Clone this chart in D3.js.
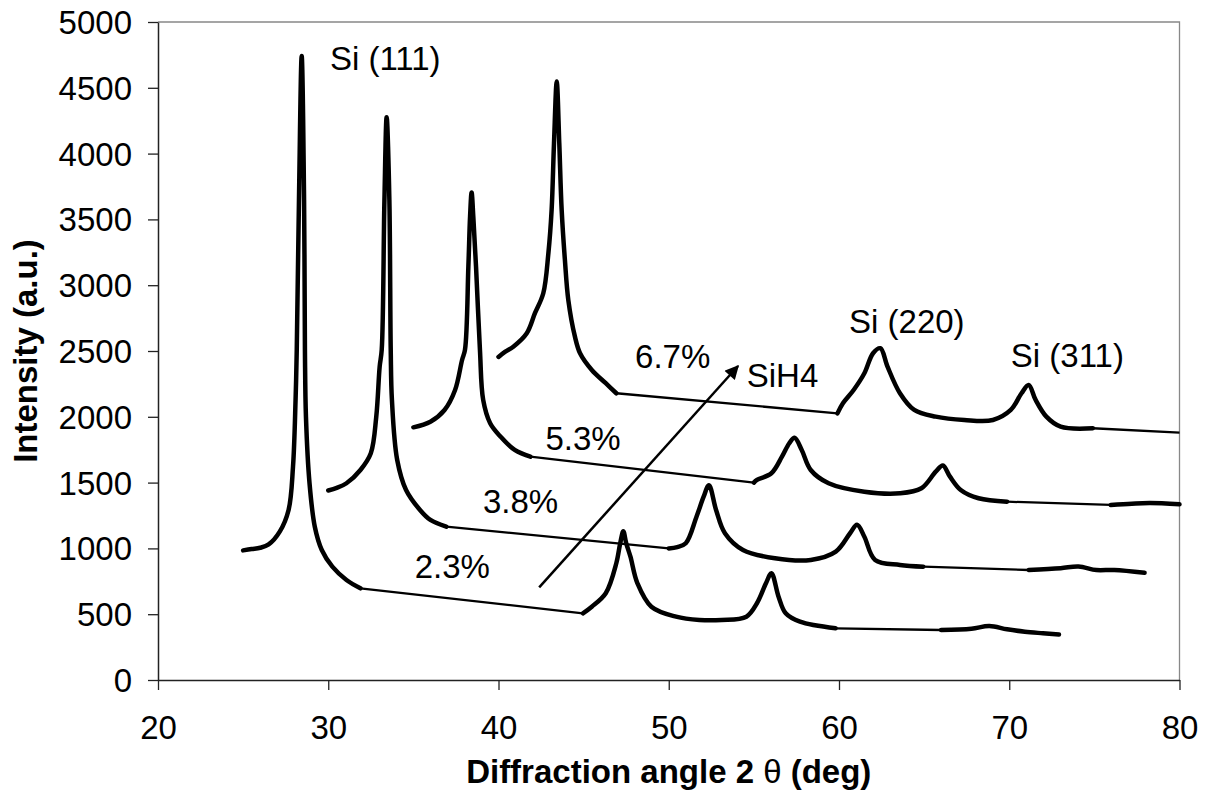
<!DOCTYPE html>
<html>
<head>
<meta charset="utf-8">
<script src="https://cdn.jsdelivr.net/npm/d3@7"></script>
<style>
  html, body { margin: 0; padding: 0; background: #fff; }
  svg { display: block; font-family: "Liberation Sans", Arial, Helvetica, sans-serif; }
</style>
</head>
<body>
<svg id="chart" width="1212" height="805"></svg>
<script>
// ---- data (2θ in degrees, intensity in a.u.) ----
const xTicks = [20, 30, 40, 50, 60, 70, 80];
const yTicks = [0, 500, 1000, 1500, 2000, 2500, 3000, 3500, 4000, 4500, 5000];

// each series: list of measured segments; consecutive segments are joined by straight lines
const series23 = [
  [[25.0,985],[25.5,995],[26.0,1005],[26.5,1030],[27.15,1127],[27.67,1292],[27.93,1621],[28.08,2128],[28.15,2508],[28.28,3648],[28.44,4742],[28.58,3648],[28.63,2508],[28.69,2001],[28.9,1495],[29.21,1165],[29.62,988],[30.24,861],[31.07,760],[31.89,697]],
  [[44.96,507],[45.48,557],[46.3,659],[46.92,887],[47.15,1040],[47.33,1130],[47.5,1040],[47.75,937],[48.16,735],[48.98,557],[50.43,481],[51.8,456],[53.1,456],[54.56,481],[55.18,583],[55.71,735],[56.03,811],[56.45,633],[56.87,507],[57.71,443],[59.8,393]],
  [[66.0,380],[67.78,390],[68.83,410],[69.87,385],[70.92,367],[71.98,355],[72.92,345]]
];
const series38 = [
  [[30.0,1440],[30.5,1460],[31.07,1495],[31.89,1596],[32.5,1723],[32.82,2001],[33.02,2381],[33.14,2508],[33.3,3648],[33.43,4277],[33.59,3648],[33.67,2508],[33.74,2128],[34.05,1672],[34.57,1444],[35.39,1292],[36.0,1216],[36.93,1165]],
  [[50.0,1000],[50.5,1010],[51.0,1039],[51.63,1241],[52.05,1393],[52.36,1480],[52.78,1292],[53.3,1115],[54.36,988],[56.24,925],[58.34,912],[59.81,975],[60.65,1115],[61.06,1180],[61.49,1089],[62.12,912],[63.58,874],[64.95,861]],
  [[71.14,836],[73.02,850],[74.07,862],[75.12,835],[76.17,836],[77.95,815]]
];
const series53 = [
  [[35.0,1920],[36.0,1963],[36.83,2052],[37.45,2204],[37.86,2432],[38.03,2508],[38.23,3141],[38.33,3521],[38.42,3704],[38.52,3521],[38.68,3141],[38.91,2508],[39.1,2128],[39.51,1951],[40.12,1849],[40.95,1748],[41.87,1697]],
  [[55.0,1500],[55.18,1520],[56.03,1571],[56.65,1697],[57.08,1799],[57.39,1840],[57.81,1748],[58.34,1596],[59.39,1495],[61.49,1431],[63.58,1419],[64.84,1457],[65.68,1583],[66.1,1630],[66.52,1545],[67.15,1444],[68.2,1381],[69.87,1355]],
  [[75.96,1330],[77.2,1340],[78.27,1345],[80.0,1335]]
];
const series67 = [
  [[40.0,2455],[40.4,2495],[40.87,2533],[41.66,2635],[42.14,2787],[42.63,2939],[42.93,3243],[43.12,3572],[43.26,4079],[43.42,4547],[43.57,4079],[43.71,3572],[43.9,3192],[44.1,2888],[44.49,2609],[44.79,2483],[45.48,2356],[46.3,2255],[46.92,2179]],
  [[59.91,2026],[60.23,2103],[60.86,2204],[61.49,2331],[62.0,2483],[62.43,2521],[62.85,2381],[63.58,2179],[64.42,2052],[65.68,2001],[67.36,1976],[69.04,1976],[70.09,2052],[70.72,2179],[71.14,2242],[71.55,2128],[72.18,2001],[73.02,1925],[74.91,1913]],
  [[80.0,1880]]
];
const allSeries = [series23, series38, series53, series67];

// annotations (data coordinates)
const labelTexts = ["Si (111)", "Si (220)", "Si (311)", "2.3%", "3.8%", "5.3%", "6.7%", "SiH4"];
const labelX =     [30.1,       60.59,      70.09,      35.08,  39.09,  42.76,  48.02,  54.58];
const labelY =     [4636,       2637,       2377,       777,    1267,   1748,   2371,   2229];
const arrowFrom = [42.39, 704];
const arrowTo = [54.07, 2386];

// ---- drawing ----
const svg = d3.select("#chart");
const x = d3.scaleLinear().domain([20, 80]).range([158, 1179.5]);
const y = d3.scaleLinear().domain([0, 5000]).range([680, 22]);
const fontSize = 33;

// plot area border (grey top/right)
svg.append("path")
  .attr("d", `M${x(20)},${y(5000)}H${x(80)}V${y(0)}`)
  .attr("fill", "none").attr("stroke", "#888").attr("stroke-width", 1.3);

// axes
const gy = svg.append("g").attr("transform", `translate(${x(20)},0)`)
  .call(d3.axisLeft(y).tickValues(yTicks).tickFormat(d3.format("d")).tickSize(10).tickPadding(16).tickSizeOuter(0));
const gx = svg.append("g").attr("transform", `translate(0,${y(0)})`)
  .call(d3.axisBottom(x).tickValues(xTicks).tickFormat(d3.format("d")).tickSize(10).tickPadding(26).tickSizeOuter(0));
[gx, gy].forEach(g => {
  g.select(".domain").attr("stroke", "#222").attr("stroke-width", 1.5);
  g.selectAll(".tick line").attr("stroke", "#222").attr("stroke-width", 1.3);
  g.selectAll("text").attr("font-size", fontSize).attr("fill", "#000")
    .attr("font-family", '"Liberation Sans", Arial, sans-serif');
});
gy.selectAll("text").attr("dy", "0.35em");

// curves
const line = d3.line().x(d => x(d[0])).y(d => y(d[1])).curve(d3.curveCatmullRom.alpha(0.5));
const plot = svg.append("g");
allSeries.forEach(segs => {
  // straight connectors between measured segments
  for (let i = 0; i < segs.length - 1; i++) {
    const a = segs[i][segs[i].length - 1], b = segs[i + 1][0];
    plot.append("line")
      .attr("x1", x(a[0])).attr("y1", y(a[1])).attr("x2", x(b[0])).attr("y2", y(b[1]))
      .attr("stroke", "#000").attr("stroke-width", 2.3);
  }
  segs.filter(s => s.length > 1).forEach(s => {
    plot.append("path").datum(s).attr("d", line)
      .attr("fill", "none").attr("stroke", "#000").attr("stroke-width", 4.5)
      .attr("stroke-linejoin", "round").attr("stroke-linecap", "round");
  });
});

// arrow
svg.append("defs").append("marker")
  .attr("id", "arrowhead").attr("viewBox", "0 0 10 10").attr("refX", 9).attr("refY", 5)
  .attr("markerUnits", "userSpaceOnUse").attr("markerWidth", 16).attr("markerHeight", 14)
  .attr("orient", "auto")
  .append("path").attr("d", "M0,0L10,5L0,10Z").attr("fill", "#000");
svg.append("line")
  .attr("x1", x(arrowFrom[0])).attr("y1", y(arrowFrom[1]))
  .attr("x2", x(arrowTo[0])).attr("y2", y(arrowTo[1]))
  .attr("stroke", "#000").attr("stroke-width", 2.5).attr("marker-end", "url(#arrowhead)");

// annotations
svg.append("g").selectAll("text").data(labelTexts).join("text")
  .attr("x", (d, i) => x(labelX[i])).attr("y", (d, i) => y(labelY[i]))
  .attr("font-size", fontSize).attr("fill", "#000").text(d => d);

// axis titles
const xt = svg.append("text").attr("x", (x(20) + x(80)) / 2).attr("y", 783)
  .attr("text-anchor", "middle").attr("font-size", fontSize).attr("font-weight", "bold");
xt.append("tspan").text("Diffraction angle 2 ");
xt.append("tspan").attr("font-weight", "normal").text("θ");
xt.append("tspan").text(" (deg)");

svg.append("text").attr("transform", `translate(37,${(y(0) + y(5000)) / 2}) rotate(-90)`)
  .attr("text-anchor", "middle").attr("font-size", fontSize).attr("font-weight", "bold")
  .text("Intensity (a.u.)");
</script>
</body>
</html>
